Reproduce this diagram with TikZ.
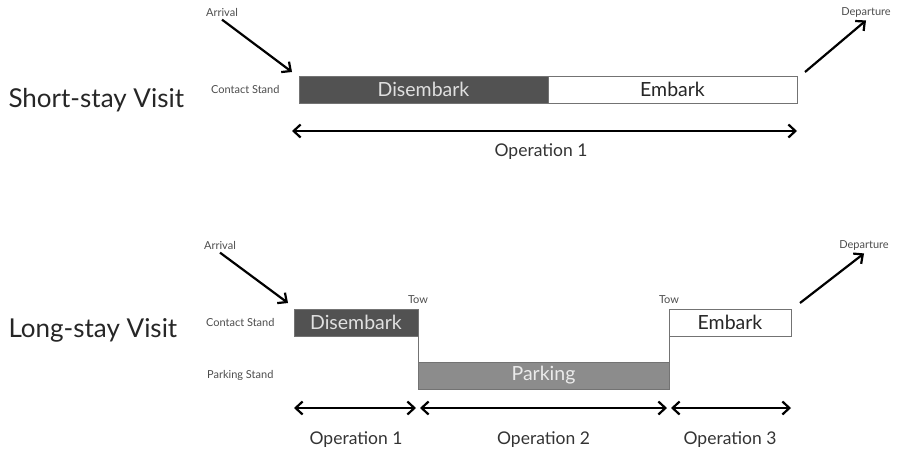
\documentclass[tikz,border=0pt]{standalone}
\usepackage{fontspec}
\setmainfont{Lato}
\usetikzlibrary{arrows.meta,positioning,calc}

\begin{document}
\begin{tikzpicture}[x=1pt,y=-1pt,
    visit/.style={anchor=west, font=\fontsize{26}{26}\selectfont, text=black!85},
    small/.style={font=\fontsize{11}{11}\selectfont, text=black!70},
    oplabel/.style={font=\fontsize{17.5}{17.5}\selectfont, text=black!80},
    phase/.style={draw=black!55, line width=1pt, minimum height=27pt, inner sep=0pt, outer sep=0pt, font=\fontsize{19.5}{19.5}\selectfont},
    dark/.style={phase, fill=black!68, text=black!12},
    light/.style={phase, fill=white, text=black!85},
    mid/.style={phase, fill=black!45, text=black!8},
    move/.style={-{Straight Barb[length=7pt,width=13pt]}, line width=2.2pt},
    span/.style={{Straight Barb[length=7pt,width=13pt]}-{Straight Barb[length=7pt,width=13pt]}, line width=2.2pt}]
    \useasboundingbox (0,0) rectangle (899,456);
    % short-stay visit
    \node[visit] (short) at (5,100) {Short-stay Visit};
    \node[dark, minimum width=249pt, anchor=west] (dis1) at (299,89.5) {Disembark};
    \node[light, minimum width=249pt, right=0pt of dis1] (emb1) {Embark};
    \node[small, left=16pt of dis1] (cs1) {Contact Stand};
    \node[small] (arr1) at (222,12) {Arrival};
    \node[small] (dep1) at (866,12) {Departure};
    \coordinate (in1) at (292,72);
    \coordinate (out1) at (805,72);
    \draw[move] (arr1.south) -- (in1);
    \draw[move] (out1) -- (dep1.south);
    \draw[span] (292,131) -- (emb1.east |- 0,131);
    \node[oplabel] (op1) at (541,152) {Operation 1};
    % long-stay visit
    \node[visit] (long) at (5,330) {Long-stay Visit};
    \node[dark, minimum width=124pt, anchor=west] (dis2) at (294,322.5) {Disembark};
    \node[mid, minimum width=251pt, anchor=north west] (park) at ([yshift=-26pt]dis2.south east) {Parking};
    \node[light, minimum width=122pt, anchor=south west] (emb2) at ([yshift=26pt]park.north east) {Embark};
    \draw[black!55, line width=1pt] (dis2.south east) -- (park.north west);
    \draw[black!55, line width=1pt] (park.north east) -- (emb2.south west);
    \node[small, left=16pt of dis2] (cs2) {Contact Stand};
    \node[small] (ps2) at (cs2 |- park) {Parking Stand};
    \node[small, above=2pt of dis2.north east] (tow1) {Tow};
    \node[small, above=2pt of emb2.north west] (tow2) {Tow};
    \node[small] (arr2) at (220,245) {Arrival};
    \node[small] (dep2) at (864,245) {Departure};
    \coordinate (in2) at (288,303);
    \coordinate (out2) at (800,303);
    \draw[move] (arr2.south) -- (in2);
    \draw[move] (out2) -- (dep2.south);
    \draw[span] (dis2.west |- 0,408) -- ([xshift=-2pt]dis2.east |- 0,408);
    \draw[span] ([xshift=2pt]park.west |- 0,408) -- ([xshift=-2pt]park.east |- 0,408);
    \draw[span] ([xshift=2pt]emb2.west |- 0,408) -- (emb2.east |- 0,408);
    \node[oplabel] (op21) at (dis2 |- 0,440) {Operation 1};
    \node[oplabel] (op22) at (park |- 0,440) {Operation 2};
    \node[oplabel] (op23) at (emb2 |- 0,440) {Operation 3};
\end{tikzpicture}
\end{document}
